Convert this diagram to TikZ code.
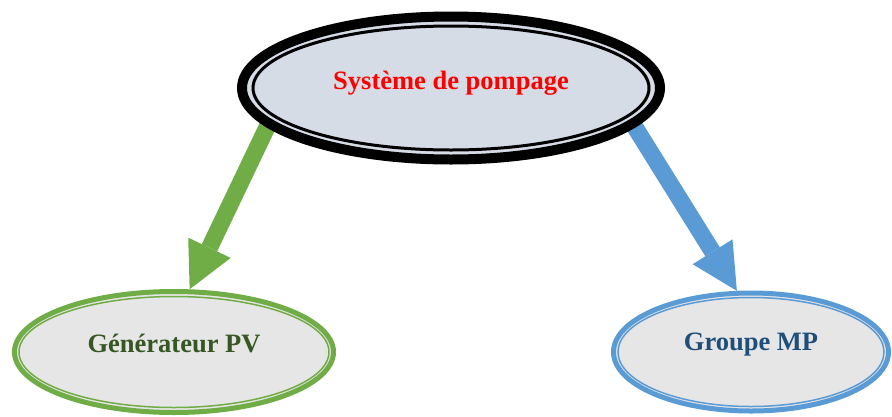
\documentclass[tikz,border=0pt]{standalone}
\usepackage{fontspec}
\setmainfont{Liberation Serif}
\usetikzlibrary{shapes.geometric, arrows.meta, backgrounds}

\definecolor{pvgreen}{HTML}{70AD47}
\definecolor{pvgreendark}{HTML}{375623}
\definecolor{mpblue}{HTML}{5B9BD5}
\definecolor{mpbluedark}{HTML}{1F4E79}
\definecolor{topfill}{HTML}{D6DCE5}
\definecolor{lowfill}{HTML}{E7E6E6}

\begin{document}
\begin{tikzpicture}[x=1pt, y=-1pt,
        ring/.style={ellipse, draw, inner sep=0pt},
        lbl/.style={ellipse, draw, inner sep=0pt, font=\fontsize{26.5}{30}\selectfont\bfseries},
        bigarrow/.style={line width=17pt, shorten <=-12pt, -{Triangle[length=46pt, width=47pt, line width=0pt]}}]
    \useasboundingbox (0,0) rectangle (892,416);
    % top ellipse
    \node[ring, line width=10pt, fill=topfill, minimum width=418pt, minimum height=143pt] (sysring) at (451,88) {};
    \node[lbl, line width=3pt, minimum width=396pt, minimum height=124pt, text=red, text height=20pt, text depth=18pt] (sys) at (sysring.center) {Système de pompage};
    % lower ellipses
    \node[ring, line width=5pt, draw=pvgreen, fill=lowfill, minimum width=319pt, minimum height=121pt] (genring) at (174,352) {};
    \node[lbl, line width=1.5pt, draw=pvgreen, minimum width=310pt, minimum height=111pt, text=pvgreendark, text height=19pt, text depth=19pt] (gen) at (genring.center) {Générateur PV};
    \node[ring, line width=5pt, draw=mpblue, fill=lowfill, minimum width=275pt, minimum height=118pt] (mpring) at (751,352) {};
    \node[lbl, line width=1.5pt, draw=mpblue, minimum width=266pt, minimum height=109pt, text=mpbluedark, text height=19pt, text depth=23pt] (mp) at (mpring.center) {Groupe MP};
    % arrows
    \begin{pgfonlayer}{background}
        \draw[bigarrow, pvgreen] (sysring.192) -- (genring.76);
        \draw[bigarrow, mpblue] (sysring.348) -- (mpring.103);
    \end{pgfonlayer}
\end{tikzpicture}
\end{document}
